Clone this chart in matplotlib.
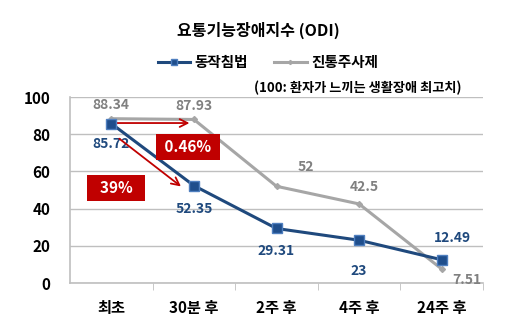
import matplotlib
matplotlib.use('Agg')
import matplotlib.pyplot as plt

plt.rcParams['font.family'] = ['Noto Sans CJK KR', 'DejaVu Sans']
plt.rcParams['font.weight'] = 'bold'

categories = ['최초', '30분 후', '2주 후', '4주 후', '24주 후']
acupuncture = [85.72, 52.35, 29.31, 23, 12.49]
injection = [88.34, 87.93, 52, 42.5, 7.51]
acu_labels = ['85.72', '52.35', '29.31', '23', '12.49']
inj_labels = ['88.34', '87.93', '52', '42.5', '7.51']

W, H = 509, 328
fig = plt.figure(figsize=(W / 100, H / 100), dpi=100)
ax = fig.add_axes([70 / W, (H - 283) / H, 413 / W, 186 / H])

blue = '#1F497D'
gray = '#A6A6A6'
red = '#C00000'
x = list(range(len(categories)))

ax.plot(x, injection, color=gray, lw=2.2, marker='D', ms=3, mfc=gray, mec=gray, zorder=3)
ax.plot(x, acupuncture, color=blue, lw=2.2, marker='s', ms=7, mfc='#1F4E8C', mec='#4F7FBF', mew=1, zorder=4)

ax.set_xlim(-0.5, 4.5)
ax.set_ylim(0, 100)
ax.set_yticks([0, 20, 40, 60, 80, 100])
ax.set_xticks(x)
ax.set_xticklabels(categories, fontsize=11, fontweight='bold')
ax.tick_params(axis='y', labelsize=11, length=0, pad=14)
ax.tick_params(axis='x', length=0, pad=12)
ax.set_xticks([0.5, 1.5, 2.5, 3.5, 4.5], minor=True)
ax.tick_params(axis='x', which='minor', length=5, color='#BFBFBF', direction='out')
ax.grid(axis='y', color='#BFBFBF', lw=1)
ax.set_axisbelow(True)
for s in ['top', 'right']:
    ax.spines[s].set_visible(False)
ax.spines['left'].set_color('#BFBFBF')
ax.spines['bottom'].set_color('#BFBFBF')
ax.spines['left'].set_linewidth(1.2)
ax.spines['bottom'].set_linewidth(1.2)

# data labels (offsets in points)
inj_off = [(0, 10), (0, 10), (21, 14), (4, 12), (18, -8)]
acu_off = [(0, -15), (0, -17), (0, -16), (0, -22), (8, 16)]
for i in x:
    ax.annotate(inj_labels[i], (i, injection[i]), xytext=inj_off[i], textcoords='offset points',
                ha='center', va='center', color='#808080', fontsize=10, fontweight='bold')
    ax.annotate(acu_labels[i], (i, acupuncture[i]), xytext=acu_off[i], textcoords='offset points',
                ha='center', va='center', color=blue, fontsize=10, fontweight='bold')

# arrows
ax.annotate('', xy=(0.98, 86), xytext=(0.0, 86),
            arrowprops=dict(arrowstyle='->', color=red, lw=1.3, mutation_scale=14))
ax.annotate('', xy=(0.87, 51), xytext=(0.07, 78.5),
            arrowprops=dict(arrowstyle='->', color=red, lw=1.3, mutation_scale=14))

# red boxes
fig.text(188 / W, 1 - 147 / H, ' 0.46% ', ha='center', va='center', color='white', fontsize=11,
         fontweight='bold', bbox=dict(boxstyle='square,pad=0.35', fc=red, ec='none'))
fig.text(116 / W, 1 - 188 / H, '  39%  ', ha='center', va='center', color='white', fontsize=11,
         fontweight='bold', bbox=dict(boxstyle='square,pad=0.35', fc=red, ec='none'))

fig.text(258 / W, 1 - 30 / H, '요통기능장애지수 (ODI)', ha='center', va='center', fontsize=11.5, fontweight='bold')
fig.text(462 / W, 1 - 88 / H, '(100: 환자가 느끼는 생활장애 최고치)', ha='right', va='center',
         fontsize=9.5, fontweight='bold')

leg = fig.legend(handles=ax.get_lines()[::-1], labels=['동작침법', '진통주사제'], loc='center',
                 bbox_to_anchor=(268 / W, 1 - 62 / H), ncol=2, frameon=False, fontsize=10.5,
                 handlelength=2.2, columnspacing=1.8, handletextpad=0.3, markerscale=0.7)
for t in leg.get_texts():
    t.set_fontweight('bold')

fig.savefig('out.png', dpi=100)
